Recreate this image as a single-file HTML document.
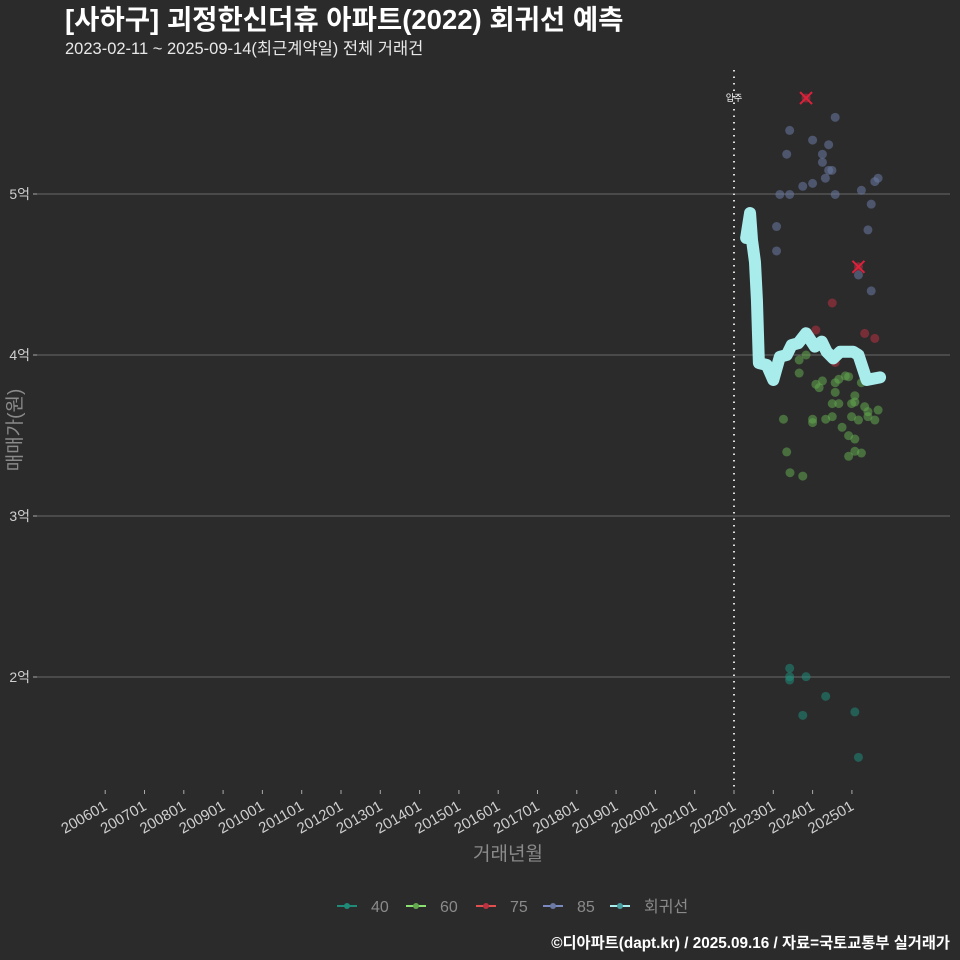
<!DOCTYPE html>
<html><head><meta charset="utf-8">
<style>
body{margin:0;background:#2b2b2c;}
svg{display:block;font-family:"Liberation Sans","Noto Sans CJK KR",sans-serif;}
</style></head>
<body>
<svg id="chart" width="960" height="960" viewBox="0 0 960 960">
<rect width="960" height="960" fill="#2b2b2c"/>
<text x="65" y="29" font-size="27.5" font-weight="bold" fill="#ffffff">[사하구] 괴정한신더휴 아파트(2022) 회귀선 예측</text>
<text x="65" y="54" font-size="16.5" fill="#e8e8e8">2023-02-11 ~ 2025-09-14(최근계약일) 전체 거래건</text>
<g id="grid"></g><g id="axes"></g><g id="marks"></g>
<text transform="translate(21,430) rotate(-90)" text-anchor="middle" font-size="19" fill="#8a8a8a">매매가(원)</text>
<text x="508" y="860" text-anchor="middle" font-size="19" fill="#8a8a8a">거래년월</text>
<g id="legend"></g>
<text x="950" y="948" text-anchor="end" font-size="15.3" font-weight="bold" fill="#ffffff">©디아파트(dapt.kr) / 2025.09.16 / 자료=국토교통부 실거래가</text>
</svg>
<script>
// months since 2022-01, price in 억
const yTicks=[2,3,4,5];
const xTickLabels=["200601","200701","200801","200901","201001","201101","201201","201301","201401","201501","201601","201701","201801","201901","202001","202101","202201","202301","202401","202501"];
const s40m=[17,17,17,22,28,21,36.9,38];
const s40v=[2.054,2.002,1.981,2.002,1.88,1.762,1.783,1.501];
const s60m=[19.9,22,19.9,25,27,26,30.9,32,34,35,38.9,30.9,36.9,36.9,35.9,30,32,39.9,44,40.9,40.9,35.9,30,38,43,28,24,24,15.1,33,35,36.9,16.1,36.9,38.9,35,17.1,21];
const s60v=[3.969,4.0,3.888,3.818,3.839,3.797,3.828,3.849,3.87,3.865,3.828,3.768,3.747,3.708,3.698,3.698,3.698,3.679,3.658,3.648,3.617,3.617,3.617,3.596,3.596,3.601,3.601,3.58,3.601,3.551,3.499,3.478,3.398,3.402,3.391,3.371,3.269,3.248];
const s75m=[22,38,30,25,39.9,43,30.9];
const s75v=[5.596,4.548,4.323,4.155,4.134,4.103,3.954];
const s85m=[30.9,17,24,28.9,16.1,27,27,28.9,29.9,27.9,44,43,24,21,38.9,14,17,30.9,41.9,13,40.9,13,38,41.9];
const s85v=[5.476,5.395,5.335,5.306,5.247,5.247,5.197,5.147,5.147,5.098,5.098,5.077,5.066,5.048,5.023,4.997,4.997,4.997,4.937,4.798,4.777,4.646,4.497,4.398];
const outlierM=[22,38];
const outlierV=[5.596,4.548];
const regM=[3.7,4.9,5.5,6.4,7,7.6,10,12,14,16.1,17.6,19.6,22,24.7,26.8,28.3,30.3,32.4,36.4,38,40.5,44.6];
const regV=[4.727,4.882,4.714,4.578,4.342,3.95,3.938,3.845,3.989,4.0,4.062,4.073,4.135,4.052,4.083,4.02,3.979,4.02,4.02,4.0,3.845,3.861];
const moveInMonth=0;

const NS="http://www.w3.org/2000/svg";
const X0=734, PXM=39.3/12;
const xs=m=>X0+m*PXM;
const ys=v=>194+(5-v)*161;
function mk(tag,attrs,parent){const e=document.createElementNS(NS,tag);for(const k in attrs)e.setAttribute(k,attrs[k]);parent.appendChild(e);return e;}
const grid=document.getElementById('grid'),axes=document.getElementById('axes'),marks=document.getElementById('marks'),legend=document.getElementById('legend');
yTicks.forEach(v=>{
 const l=mk('line',{x1:37,x2:950,y1:ys(v),y2:ys(v),stroke:'#6a6a6a','stroke-width':1},grid);
 
 
 const t=mk('line',{x1:33,x2:37,y1:ys(v),y2:ys(v),stroke:'#aaa'},axes);
 
 
 const tx=mk('text',{x:30,y:ys(v)+5,'text-anchor':'end','font-size':14,fill:'#cfcfcf'},axes);
 tx.textContent=v+'억';
 
 
});
xTickLabels.forEach((lab,i)=>{
 const m=(i-16)*12, x=xs(m);
 const t=mk('line',{x1:x,x2:x,y1:790,y2:794,stroke:'#aaa'},axes);
 
 
 const tx=mk('text',{x:0,y:0,'text-anchor':'end','font-size':15,fill:'#cfcfcf',transform:`translate(${x+3},${809}) rotate(-30)`},axes);
 tx.textContent=lab;
 
 
});
const mv=mk('line',{x1:xs(moveInMonth),x2:xs(moveInMonth),y1:70,y2:790,stroke:'#dddddd','stroke-width':2,'stroke-dasharray':'1.5 5'},marks);


const mvt=mk('text',{x:xs(moveInMonth),y:101,'text-anchor':'middle','font-size':9,fill:'#fff'},marks);
mvt.textContent='입주';


const series=[['40',s40m,s40v,'#1f8a78'],['60',s60m,s60v,'#62a84e'],['75',s75m,s75v,'#b8323f'],['85',s85m,s85v,'#6a7aa2']];
series.forEach(([n,ms,vs,c])=>{
 ms.forEach((m,i)=>{
  const p=mk('circle',{cx:xs(m),cy:ys(vs[i]),r:4.5,fill:c,'fill-opacity':0.55},marks);
  
  
 });
});
outlierM.forEach((m,i)=>{
 const x=xs(m),y=ys(outlierV[i]);
 const g=mk('path',{d:`M${x-6},${y-6}L${x+6},${y+6}M${x-6},${y+6}L${x+6},${y-6}`,stroke:'#e0203a','stroke-width':2},marks);
 
 
});
const rp=mk('path',{d:regM.map((m,i)=>(i?'L':'M')+xs(m)+','+ys(regV[i])).join(''),fill:'none',stroke:'#a8ecec','stroke-width':12,'stroke-linejoin':'round','stroke-linecap':'round'},marks);


const leg=[['40','#1f8a78','#1f8a78',337],['60','#62a84e','#8ae070',406],['75','#b8323f','#e05050',476],['85','#6a7aa2','#7a8ac0',543],['회귀선','#4aa0a0','#a8ecec',610]];
leg.forEach(([n,dot,line,x])=>{
 const g=mk('g',{},legend);
 
 
 mk('line',{x1:x,x2:x+20,y1:906,y2:906,stroke:line,'stroke-width':2},g);
 mk('circle',{cx:x+10,cy:906,r:3,fill:dot},g);
 const t=mk('text',{x:x+34,y:912,'font-size':16,fill:'#8a8a8a'},g);
 t.textContent=n;
});
</script>
</body></html>
